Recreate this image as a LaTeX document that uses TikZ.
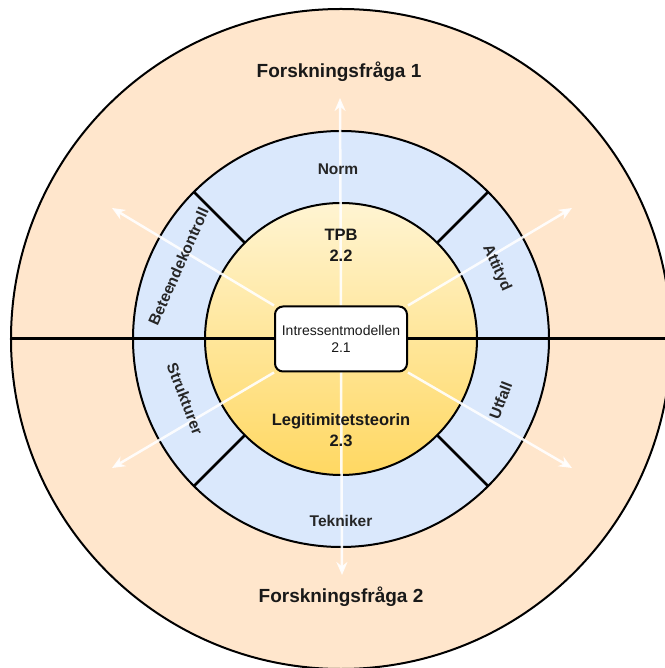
\documentclass[tikz,border=0pt]{standalone}
\usepackage{fontspec}
\setmainfont{Liberation Sans}
\usepackage{tikz}
\usetikzlibrary{
	arrows.meta,
	positioning,
	backgrounds
}
\definecolor{Peach}{HTML}{FFE6CC}
\definecolor{LightBlue}{HTML}{DAE8FC}
\definecolor{PaleGold}{HTML}{FFF4D2}
\definecolor{Gold}{HTML}{FFD862}
\pgfdeclarelayer{back}
\pgfdeclarelayer{mid}
\pgfsetlayers{back,mid,main}

\begin{document}
\begin{tikzpicture}[x=1pt, y=1pt,
		ring/.style={draw=black, line width=2pt},
		spoke/.style={draw=white, opacity=0.9, line width=2.5pt, -{Stealth[length=13pt,width=11pt]}},
		title/.style={font=\fontsize{19}{22}\selectfont\bfseries, text=black!90},
		theory/.style={font=\fontsize{16.5}{21}\selectfont\bfseries, text=black!90, align=center},
		part/.style={font=\fontsize{15.5}{18}\selectfont\bfseries, text=black!85, inner sep=0pt}]
		\clip (-341,-329) rectangle (323,339);
		% model in the middle
		\node[draw, line width=2pt, fill=white, rounded corners=8pt,
			minimum width=132pt, minimum height=65pt, align=center,
			font=\fontsize{14}{17}\selectfont, text=black!90] (core) at (0,0) {Intressentmodellen\\2.1};
		\node[theory] (tpb) at (0,94) {TPB\\2.2};
		\node[theory] (legit) at (0,-91) {Legitimitetsteorin\\2.3};
		\node[title] (rq1) at (-2,267) {Forskningsfråga 1};
		\node[title] (rq2) at (0,-258) {Forskningsfråga 2};
		% labels on the blue ring
		\node[part] (norm) at (-3,170) {Norm};
		\node[part] (tek) at (0,-182) {Tekniker};
		\node[part, rotate=66] (beteende) at (156:178) {Beteendekontroll};
		\node[part, rotate=-66] (attityd) at (24.5:171) {Attityd};
		\node[part, rotate=-69] (struktur) at (201:167) {Strukturer};
		\node[part, rotate=69] (utfall) at (-21:171) {Utfall};
		\coordinate (tipN) at (-1,241);
		\coordinate (tipS) at (1,-236);
		\coordinate (tipNW) at (-229,131);
		\coordinate (tipNE) at (231,131);
		\coordinate (tipSW) at (-229,-129);
		\coordinate (tipSE) at (231,-129);
		\begin{pgfonlayer}{back}
			\fill[Peach] (0,0) circle (330);
			\draw[ring] (0,0) circle (330);
			\filldraw[ring, fill=LightBlue] (0,0) circle (208);
			\shade[top color=PaleGold, bottom color=Gold] (0,0) circle (136);
			\draw[ring] (0,0) circle (136);
			\draw[line width=3pt] (-330,0) -- (330,0);
			\foreach \a in {45,135,225,315}
				\draw[line width=2.5pt] (\a:136) -- (\a:208);
		\end{pgfonlayer}
		\begin{pgfonlayer}{mid}
			\draw[spoke] (core.north) -- (tipN);
			\draw[spoke] (core.south) -- (tipS);
			\draw[spoke] (core.north west) -- (tipNW);
			\draw[spoke] (core.north east) -- (tipNE);
			\draw[spoke] (core.south west) -- (tipSW);
			\draw[spoke] (core.south east) -- (tipSE);
		\end{pgfonlayer}
	\end{tikzpicture}
\end{document}
